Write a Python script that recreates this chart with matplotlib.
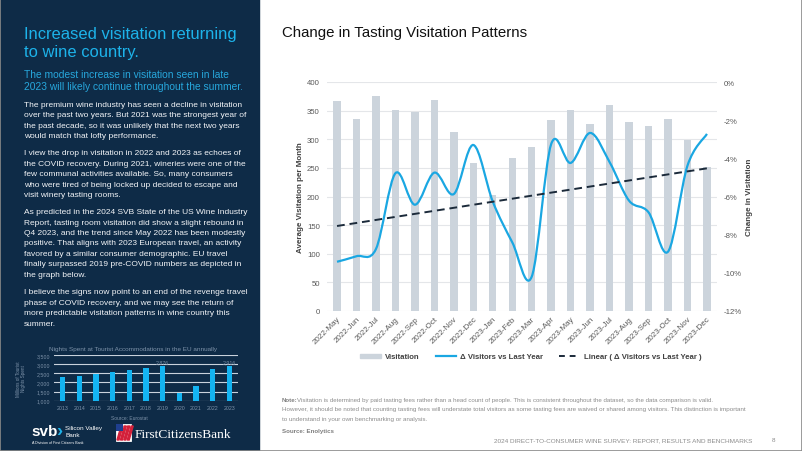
import numpy as np
import matplotlib
matplotlib.use('Agg')
import matplotlib.pyplot as plt
from matplotlib.patches import Rectangle, PathPatch, Polygon
from matplotlib.path import Path
from matplotlib.lines import Line2D

plt.rcParams['font.family'] = ['Liberation Sans', 'DejaVu Sans']

# ---------------- data ----------------
months = ['2022-May', '2022-Jun', '2022-Jul', '2022-Aug', '2022-Sep', '2022-Oct', '2022-Nov',
          '2022-Dec', '2023-Jan', '2023-Feb', '2023-Mar', '2023-Apr', '2023-May', '2023-Jun',
          '2023-Jul', '2023-Aug', '2023-Sep', '2023-Oct', '2023-Nov', '2023-Dec']
visitation = [367, 335, 375, 351, 348, 368, 313, 259, 203, 268, 287,
              333, 351, 326, 359, 330, 324, 335, 298, 252]
delta_pct = [-9.42, -9.13, -8.75, -4.78, -6.43, -4.75, -5.87, -3.30, -6.27, -8.40,
             -10.20, -3.25, -4.24, -2.67, -4.20, -6.22, -6.83, -8.89, -4.38, -2.72]

eu_years = ['2013', '2014', '2015', '2016', '2017', '2018', '2019', '2020', '2021', '2022', '2023']
eu_nights = [2313, 2368, 2477, 2550, 2696, 2789, 2876, 1421, 1821, 2734, 2916]

W, H = 802, 452


def fx(x):
    return x / W


def fy(y):
    return 1 - y / H


fig = plt.figure(figsize=(W / 100, H / 100), dpi=100)
fig.patch.set_facecolor('white')

# ---------------- left panel ----------------
navy = '#0e2b47'
fig.add_artist(Rectangle((0, 0), fx(259), 1, transform=fig.transFigure, color=navy, zorder=0))

fig.text(fx(24), fy(34), 'Increased visitation returning', color='#1db3ea', fontsize=11.9, va='center')
fig.text(fx(24), fy(52.5), 'to wine country.', color='#1db3ea', fontsize=11.9, va='center')
fig.text(fx(24), fy(75), 'The modest increase in visitation seen in late', color='#27a7dc', fontsize=7.4, va='center')
fig.text(fx(24), fy(87), '2023 will likely continue throughout the summer.', color='#27a7dc', fontsize=7.4, va='center')

paragraphs = [
    (105.5, ['The premium wine industry has seen a decline in visitation',
             'over the past two years. But 2021 was the strongest year of',
             'the past decade, so it was unlikely that the next two years',
             'would match that lofty performance.']),
    (154, ['I view the drop in visitation in 2022 and 2023 as echoes of',
           'the COVID recovery. During 2021, wineries were one of the',
           'few communal activities available. So, many consumers',
           'who were tired of being locked up decided to escape and',
           'visit winery tasting rooms.']),
    (212.7, ['As predicted in the 2024 SVB State of the US Wine Industry',
             'Report, tasting room visitation did show a slight rebound in',
             'Q4 2023, and the trend since May 2022 has been modestly',
             'positive. That aligns with 2023 European travel, an activity',
             'favored by a similar consumer demographic. EU travel',
             'finally surpassed 2019 pre-COVID numbers as depicted in',
             'the graph below.']),
    (293, ['I believe the signs now point to an end of the revenge travel',
           'phase of COVID recovery, and we may see the return of',
           'more predictable visitation patterns in wine country this',
           'summer.']),
]
for y0, lines in paragraphs:
    for k, line in enumerate(lines):
        fig.text(fx(24), fy(y0 + k * 10.4), line, color='#f2f4f7', fontsize=6.0, va='center')

# inset EU chart
inset_txt = '#7d92a9'
axi = fig.add_axes([fx(54.3), fy(401.7), fx(237.7 - 54.3), (401.7 - 356) / H])
axi.set_facecolor(navy)
xi = np.arange(len(eu_years))
axi.bar(xi, [v - 1000 for v in eu_nights], bottom=1000, width=0.32, color='#14b4f2', zorder=3)
axi.set_xlim(-0.5, 10.5)
axi.set_ylim(1000, 3500)
axi.set_yticks([1000, 1500, 2000, 2500, 3000, 3500])
axi.set_yticklabels(['1,000', '1,500', '2,000', '2,500', '3,000', '3,500'])
axi.set_xticks(xi)
axi.set_xticklabels(eu_years)
axi.tick_params(length=0, labelsize=3.8, colors=inset_txt, pad=3)
axi.grid(axis='y', color='#c9d2dc', linewidth=0.8, zorder=0)
for s in axi.spines.values():
    s.set_visible(False)
for i, v in enumerate(eu_nights):
    if eu_years[i] in ('2019', '2023'):
        axi.text(i, v + 90, f'{v:,}', ha='center', va='bottom', fontsize=3.8, color=inset_txt)
fig.text(fx(133), fy(349), 'Nights Spent at Tourist Accommodations in the EU annually',
         ha='center', va='center', fontsize=4.6, color=inset_txt)
fig.text(fx(21), fy(379), 'Millions of Tourist\nNights Spent', rotation=90, ha='center', va='center',
         fontsize=3.3, color=inset_txt, linespacing=1.1)
fig.text(fx(129), fy(419), 'Source: Eurostat', ha='center', va='center', fontsize=3.5, color=inset_txt)

# logos
fig.text(fx(31), fy(432.5), 'svb', color='white', fontsize=11, fontweight='bold', va='center')
fig.text(fx(56.5), fy(431.5), '\u203a', color='#1db3ea', fontsize=13, fontweight='bold', va='center')
fig.text(fx(65), fy(428.5), 'Silicon Valley', color='white', fontsize=4.6, va='center')
fig.text(fx(65), fy(435.5), 'Bank', color='white', fontsize=4.6, va='center')
fig.text(fx(32), fy(443.5), 'A Division of First Citizens Bank', color='white', fontsize=2.6, va='center')
# flag mark: white tile, red stripes, blue corner
fig.add_artist(Rectangle((fx(116), fy(442)), fx(15), (442 - 425) / H, transform=fig.transFigure,
                         facecolor='white', edgecolor='white', linewidth=0.6))
for k in range(4):
    fig.add_artist(Polygon([(fx(117 + k * 3.4), fy(441)), (fx(119 + k * 3.4), fy(441)),
                            (fx(123 + k * 3.4), fy(427)), (fx(121 + k * 3.4), fy(427))],
                           closed=True, transform=fig.transFigure, color='#d3203a'))
fig.add_artist(Rectangle((fx(116), fy(432)), fx(6.5), (432 - 425) / H, transform=fig.transFigure,
                         facecolor='#1f3f8f', edgecolor='none'))
fig.text(fx(135), fy(435), 'FirstCitizensBank', color='white', fontsize=9.6, va='center',
         family='Liberation Serif')

# ---------------- main chart ----------------
fig.text(fx(282), fy(33), 'Change in Tasting Visitation Patterns', color='#111111', fontsize=10.8, va='center')

ax = fig.add_axes([fx(326.7), fy(312), fx(390), 229 / H])
x = np.arange(len(months))
ax.bar(x, visitation, width=0.38, color='#ccd4dc', zorder=2)
ax.set_xlim(-0.53, len(months) - 0.5)
ax.set_ylim(0, 400)
ax.set_yticks(range(0, 401, 50))
ax.grid(axis='y', color='#e4e6e9', linewidth=0.8, zorder=0)
ax.set_axisbelow(True)
ax.set_xticks(x)
ax.set_xticklabels(months, rotation=45, ha='right', rotation_mode='anchor')
ax.tick_params(axis='x', length=0, labelsize=5.8, colors='#595959', pad=3)
ax.tick_params(axis='y', length=0, labelsize=5.6, colors='#595959', pad=5)
for s in ax.spines.values():
    s.set_visible(False)
ax.set_ylabel('Average Visitation per Month', fontsize=5.8, fontweight='bold', color='#404040', labelpad=2)

ax2 = ax.twinx()
ax2.set_ylim(-12, 0)
ax2.set_yticks(range(-12, 1, 2))
ax2.set_yticklabels([f'{v}%' for v in range(-12, 1, 2)])
ax2.tick_params(axis='y', length=0, labelsize=5.6, colors='#595959', pad=5)
for s in ax2.spines.values():
    s.set_visible(False)
ax2.set_ylabel('Change in Visitation', fontsize=5.8, fontweight='bold', color='#404040', labelpad=3)

# smoothed line through the monthly values (Catmull-Rom as cubic Bezier)
pts = np.column_stack([x, delta_pct]).astype(float)
verts = [pts[0]]
codes = [Path.MOVETO]
n = len(pts)
for i in range(n - 1):
    p0 = pts[max(i - 1, 0)]
    p1 = pts[i]
    p2 = pts[i + 1]
    p3 = pts[min(i + 2, n - 1)]
    verts += [p1 + (p2 - p0) / 6, p2 - (p3 - p1) / 6, p2]
    codes += [Path.CURVE4] * 3
ax2.add_patch(PathPatch(Path(verts, codes), facecolor='none', edgecolor='#1aa7e2', linewidth=1.6, zorder=4))

slope, icpt = np.polyfit(x, delta_pct, 1)
ax2.plot([x[0], x[-1]], [icpt, icpt + slope * x[-1]], color='#1b2a3a', linewidth=1.4,
         dashes=(4, 2.5), zorder=5)

handles = [Rectangle((0, 0), 1, 1, color='#ccd4dc'),
           Line2D([], [], color='#1aa7e2', linewidth=1.6),
           Line2D([], [], color='#1b2a3a', linewidth=1.4, dashes=(3, 2.5))]
labels = ['Visitation', '\u0394 Visitors vs Last Year', 'Linear ( \u0394 Visitors vs Last Year )']
fig.legend(handles, labels, loc='center', bbox_to_anchor=(fx(531), fy(358)), ncol=3, frameon=False,
           prop={'size': 5.6, 'weight': 'bold'}, labelcolor='#404040', handlelength=2.6,
           handleheight=0.5, columnspacing=2.0, handletextpad=0.6)

# note & footer
note_c = '#8c8c8c'
fig.text(fx(282), fy(401), 'Note:', fontsize=4.4, fontweight='bold', color='#7f7f7f', va='center')
fig.text(fx(297), fy(401), 'Visitation is determined by paid tasting fees rather than a head count of people. '
         'This is consistent throughout the dataset, so the data comparison is valid.',
         fontsize=4.4, color=note_c, va='center')
fig.text(fx(282), fy(410), 'However, it should be noted that counting tasting fees will understate total visitors '
         'as some tasting fees are waived or shared among visitors. This distinction is important',
         fontsize=4.5, color=note_c, va='center')
fig.text(fx(282), fy(419), 'to understand in your own benchmarking or analysis.',
         fontsize=4.5, color=note_c, va='center')
fig.text(fx(282), fy(432), 'Source: Enolytics', fontsize=4.4, fontweight='bold', color='#7f7f7f', va='center')
fig.text(fx(752), fy(440.5), '2024 DIRECT-TO-CONSUMER WINE SURVEY: REPORT, RESULTS AND BENCHMARKS',
         fontsize=4.6, color='#8c8c8c', va='center', ha='right')
fig.text(fx(772), fy(440.5), '8', fontsize=4.6, color='#8c8c8c', va='center')

# slide frame
fig.add_artist(Rectangle((0, 0), 1, 1, transform=fig.transFigure, facecolor='none',
                         edgecolor='#8a8a8a', linewidth=1.2, zorder=10))

fig.savefig('out.png', dpi=100)
